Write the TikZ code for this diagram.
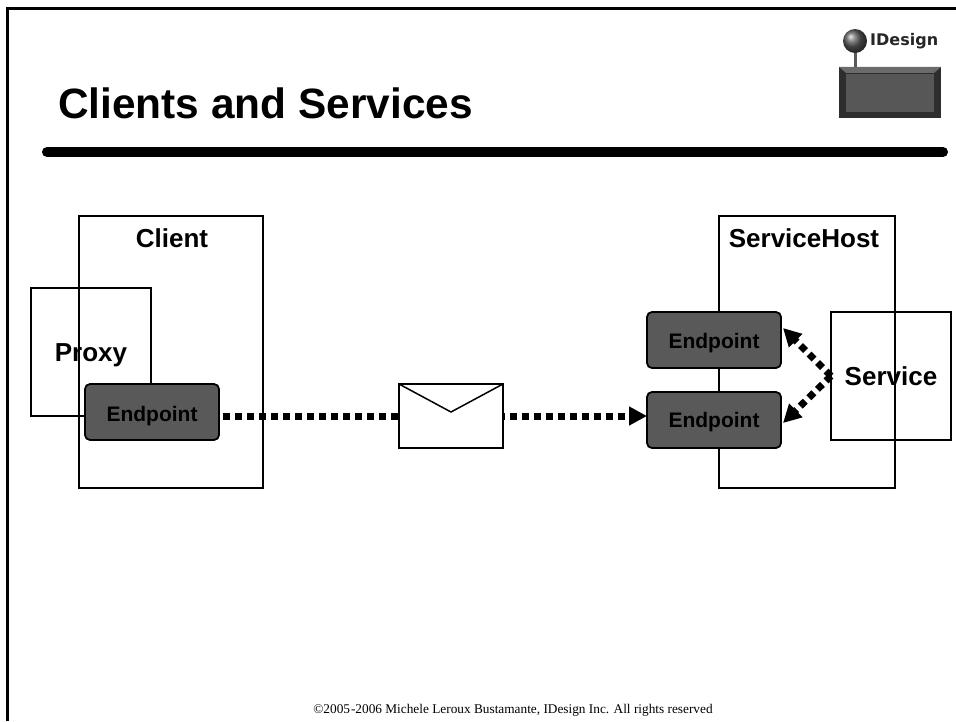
\documentclass[tikz,border=0pt]{standalone}
\usepackage{fontspec}
\setmainfont{Liberation Sans}
\newfontfamily\footfont{Liberation Serif}
\newfontfamily\logofont{DejaVu Sans}
\usetikzlibrary{arrows.meta}
\definecolor{epgray}{HTML}{595959}
\tikzset{
  box/.style={draw,line width=1.8pt,inner sep=0pt,outer sep=0pt,text depth=0pt,font=\fontsize{26}{26}\bfseries\selectfont},
  boxlabel/.style={anchor=base,inner sep=0pt,font=\fontsize{26}{26}\bfseries\selectfont},
  endpoint/.style={draw,fill=epgray,rounded corners=5pt,line width=1.8pt,inner sep=0pt,outer sep=0pt,
    minimum width=134pt,minimum height=56pt,text depth=0pt,text height=16pt,font=\fontsize{21}{21}\bfseries\selectfont},
  dots/.style={line width=7pt,dash pattern=on 7pt off 5pt},
  msg/.style={dots,-{Triangle[length=18pt,width=18pt]}},
}
\begin{document}
\begin{tikzpicture}[x=1pt,y=-1pt]
  \useasboundingbox (0,0) rectangle (956,721);

  % page frame and rule
  \coordinate (ftop) at (956,8.5);
  \coordinate (fcorner) at (7.5,8.5);
  \coordinate (fbot) at (7.5,721);
  \draw[line width=2.2pt] (ftop) -- (fcorner) -- (fbot);
  \coordinate (rulea) at (47,152);
  \coordinate (ruleb) at (943,152);
  \draw[line width=10pt,line cap=round] (rulea) -- (ruleb);
  \node[anchor=base west,inner sep=0pt,font=\fontsize{42.4}{42}\bfseries\selectfont] (title) at (58,118.3) {Clients and Services};

  % logo
  \node[fill=black!82,minimum width=102pt,minimum height=51pt,inner sep=0pt] (logobox) at (890,92.5) {};
  \fill[black!58] (logobox.north west) -- (logobox.north east) -- ([xshift=-7pt,yshift=-6pt]logobox.north east) -- ([xshift=7pt,yshift=-6pt]logobox.north west) -- cycle;
  \node[fill=black!66,minimum width=88pt,minimum height=38pt,inner sep=0pt] (logoface) at (890,93) {};
  \coordinate (stemtop) at (855,41);
  \draw[black!65,line width=3pt] (stemtop) -- (stemtop |- logobox.north);
  \node[circle,ball color=black!65,minimum size=24pt,inner sep=0pt] (logoball) at (stemtop) {};
  \node[anchor=west,inner sep=0pt,text=black!85,font=\logofont\fontsize{16}{16}\bfseries\selectfont] (logotext) at (870,41) {IDesign};

  % client side
  \node[box,minimum width=120pt,minimum height=128pt,text height=19.4pt] (proxy) at (91,352) {Proxy};
  \node[box,minimum width=184pt,minimum height=272pt] (client) at (171,352) {};
  \node[boxlabel] (clientlabel) at (172,247.7) {Client};
  \node[endpoint,text height=19.4pt] (epclient) at (152,412) {Endpoint};

  % host side
  \node[box,minimum width=120pt,minimum height=128pt,text height=18pt] (service) at (891,376) {Service};
  \node[box,minimum width=176pt,minimum height=272pt] (host) at (807,352) {};
  \node[boxlabel] (hostlabel) at (804,247.7) {ServiceHost};
  \node[endpoint] (epa) at (714,340) {Endpoint};
  \node[endpoint,text height=14.6pt] (epb) at (714,420) {Endpoint};

  % message
  \node[draw,fill=white,line width=1.8pt,minimum width=104pt,minimum height=64pt,inner sep=0pt,outer sep=0pt] (envelope) at (451,416) {};
  \coordinate (flap) at (451,412);
  \draw[line width=1.5pt] (envelope.north west) -- (flap) -- (envelope.north east);

  % connectors
  \draw[dots,shorten <=4pt] (epclient.east |- envelope.west) -- (envelope.west);
  \draw[msg,dash phase=5pt] (envelope.east) -- (envelope.east -| epb.west);
  \coordinate (tipa) at (783,328);
  \coordinate (tipb) at (783,423);
  \draw[msg] (service.west) -- (tipa);
  \draw[msg] (service.west) -- (tipb);

  \node[anchor=base,inner sep=0pt,font=\footfont\fontsize{13.3}{13}\selectfont] (copyright) at (513,713.3) {©2005\kern1pt-2006 Michele Leroux Bustamante, IDesign Inc. All rights reserved};
\end{tikzpicture}
\end{document}
